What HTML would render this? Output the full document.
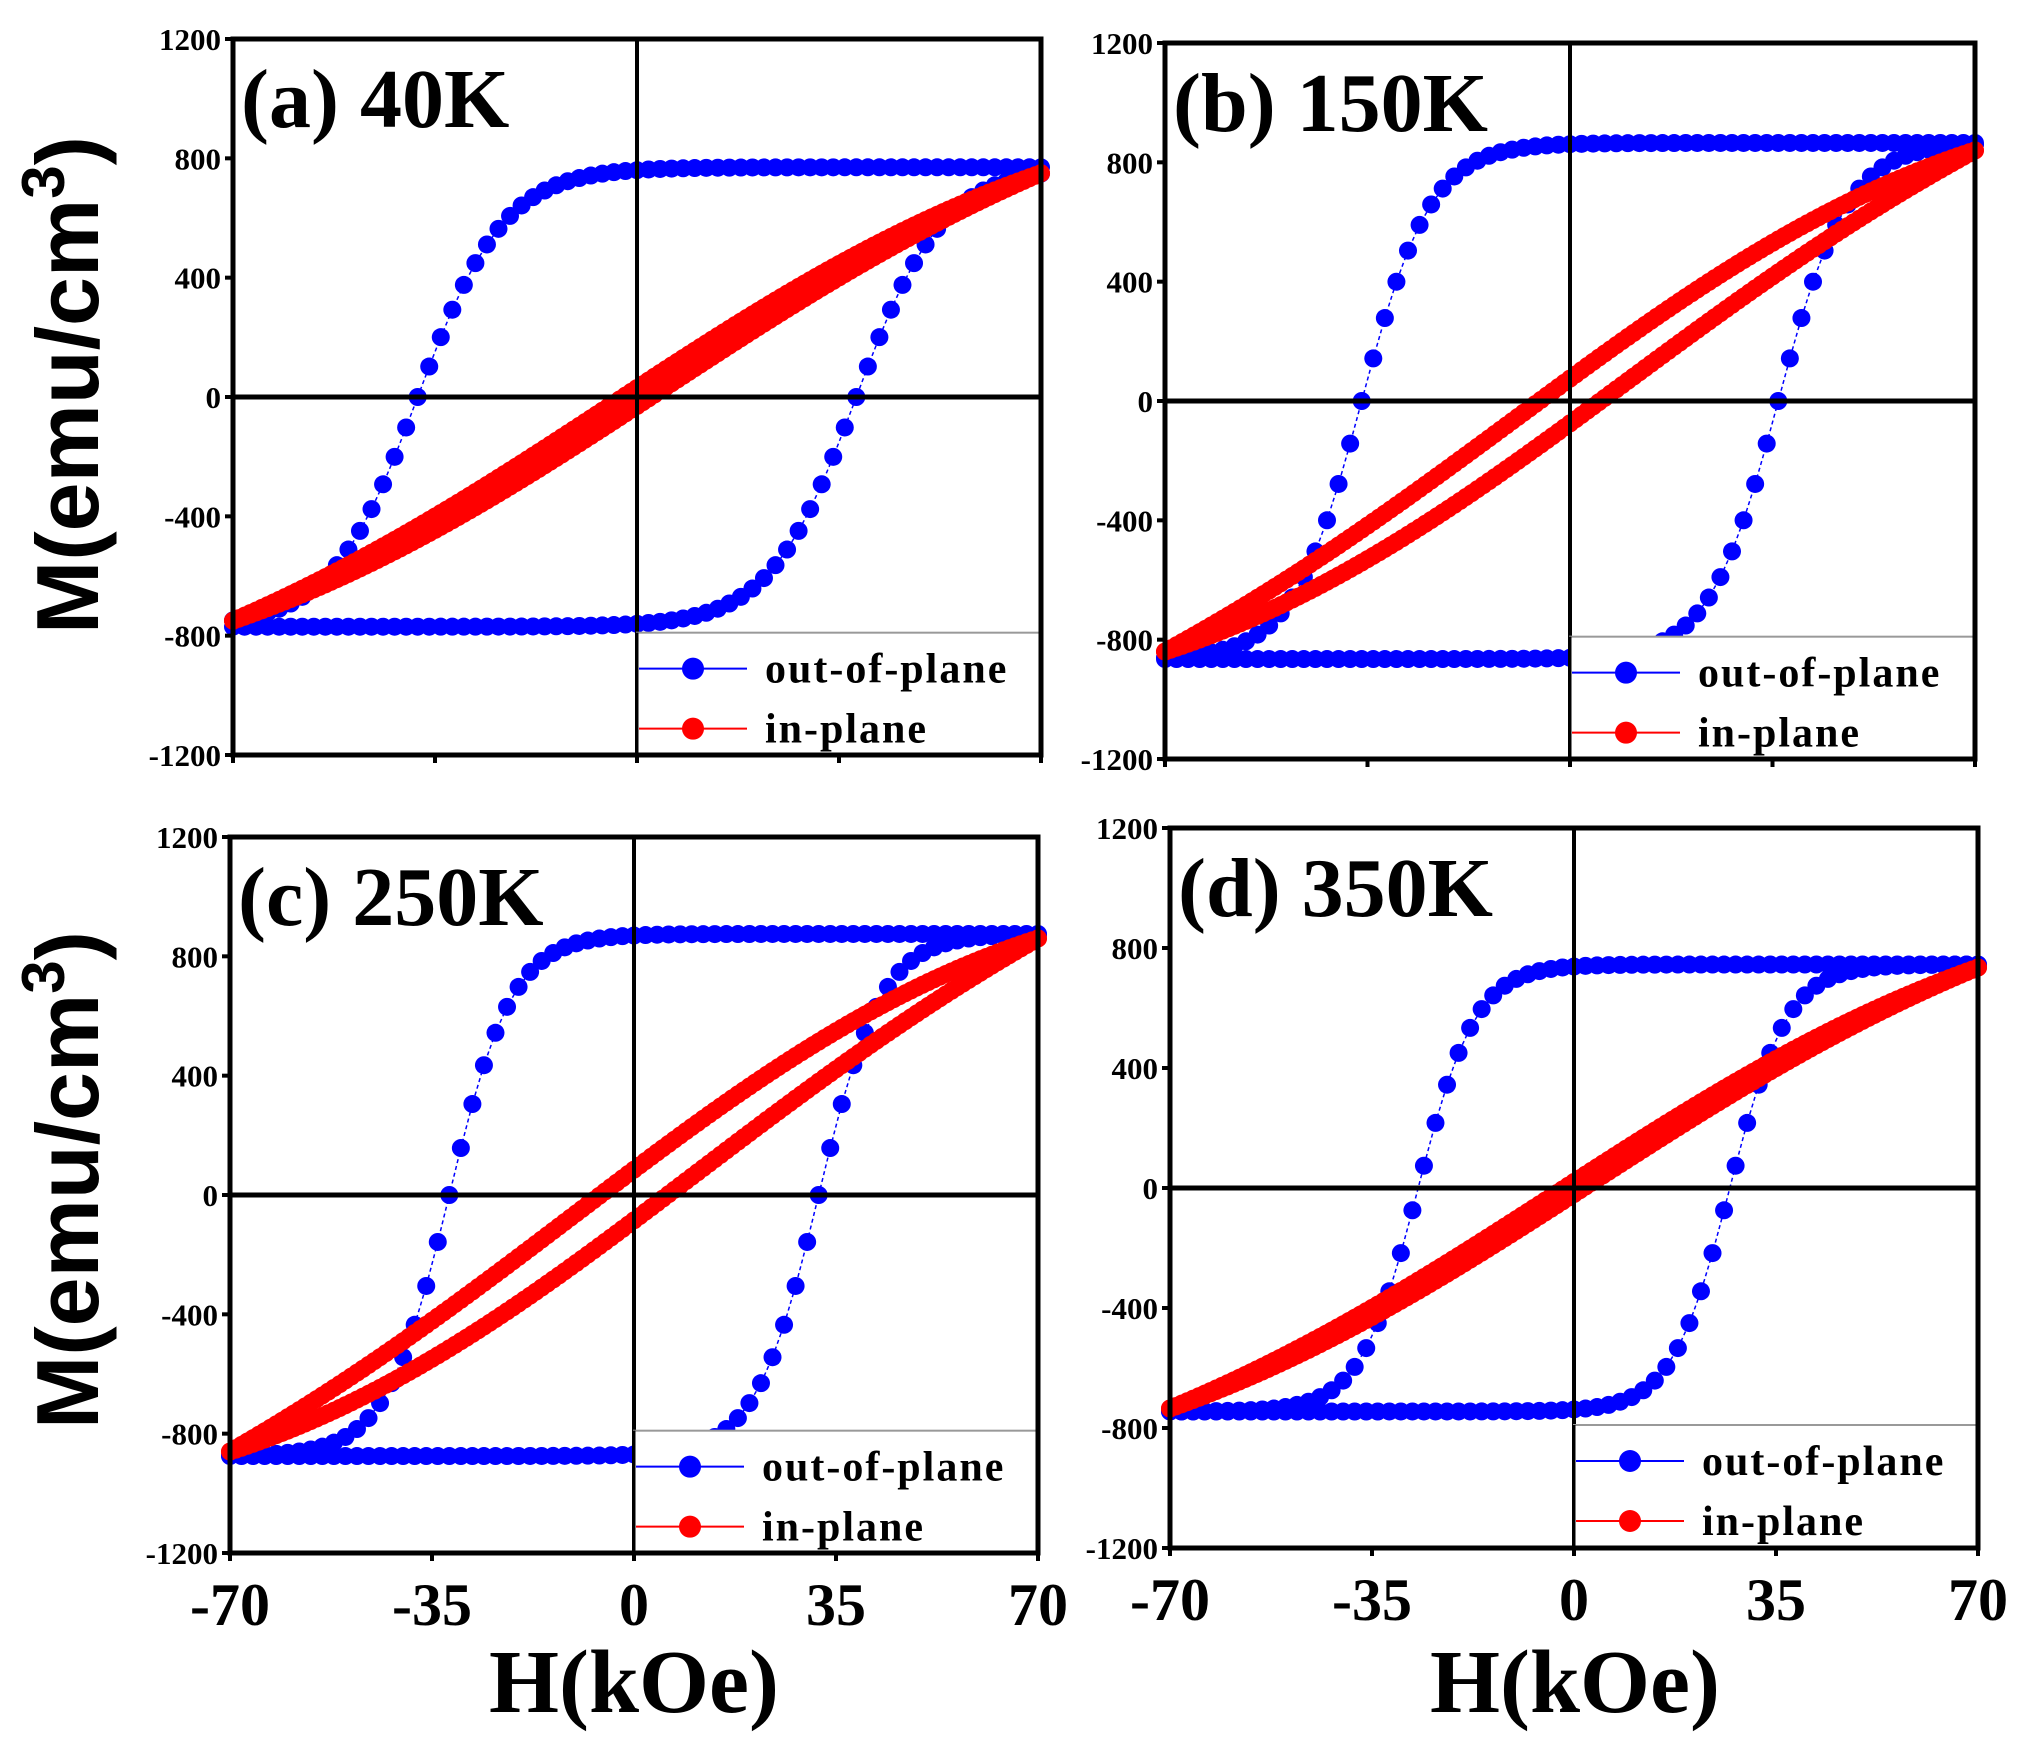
<!DOCTYPE html>
<html><head><meta charset="utf-8">
<style>
html,body{margin:0;padding:0;background:#fff;}
svg{display:block;}
</style></head>
<body>
<svg id="s" width="2023" height="1741" xmlns="http://www.w3.org/2000/svg">
<rect width="2023" height="1741" fill="#fff"/>
<text transform="translate(98,385) rotate(-90)" text-anchor="middle" font-family="Liberation Sans, sans-serif" font-weight="bold" font-size="88">M(emu/cm<tspan dy="-34" font-size="60">3</tspan><tspan dy="34">)</tspan></text>
<text transform="translate(98,1180) rotate(-90)" text-anchor="middle" font-family="Liberation Sans, sans-serif" font-weight="bold" font-size="88">M(emu/cm<tspan dy="-34" font-size="60">3</tspan><tspan dy="34">)</tspan></text>
<text x="634" y="1712" text-anchor="middle" font-family="Liberation Serif, serif" font-weight="bold" font-size="90">H(kOe)</text>
<text x="1575" y="1712" text-anchor="middle" font-family="Liberation Serif, serif" font-weight="bold" font-size="90">H(kOe)</text>
<g id="g"></g>
</svg>
<script>
const NS="http://www.w3.org/2000/svg";
const g=document.getElementById('g');
function el(t,a,txt){const e=document.createElementNS(NS,t);for(const k in a)e.setAttribute(k,a[k]);if(txt!==undefined)e.textContent=txt;g.appendChild(e);return e;}
const panels=[
 {x0:233,x1:1041,y0:39,y1:755,label:"(a) 40K",Ms:770,Hc:38,w:15,ip:750,b:30,xl:false},
 {x0:1165,x1:1975,y0:43,y1:759,label:"(b) 150K",Ms:865,Hc:36,w:12,ip:840,b:75,xl:false},
 {x0:230,x1:1038,y0:837,y1:1553,label:"(c) 250K",Ms:875,Hc:32,w:11,ip:860,b:85,xl:true},
 {x0:1170,x1:1978,y0:828,y1:1548,label:"(d) 350K",Ms:745,Hc:27,w:10,ip:735,b:20,xl:true}
];
const F="Liberation Serif, serif";
panels.forEach(p=>{
 const X=h=>p.x0+(h+70)/140*(p.x1-p.x0);
 const Y=m=>p.y1-(m+1200)/2400*(p.y1-p.y0);
 function opBranch(sign){
  const pts=[];
  for(let i=0;i<=70;i++){const h=-70+i*2;const m=sign>0?p.Ms*Math.tanh((h+p.Hc)/p.w):p.Ms*Math.tanh((h-p.Hc)/p.w);pts.push([h,m]);}
  return pts;}
 const k=0.75,tk=Math.tanh(k);
 function ipBranch(sign){const pts=[];for(let i=0;i<=140;i++){const h=-70+i;const t=h/70;const m=p.ip*Math.tanh(k*t)/tk+sign*p.b*(1-t*t);pts.push([h,m]);}return pts;}
 const series=[[opBranch(1),"#0000ff"],[opBranch(-1),"#0000ff"],[ipBranch(1),"#ff0000"],[ipBranch(-1),"#ff0000"]];
 series.forEach(([pts,c])=>{
  el('polyline',{points:pts.map(q=>X(q[0])+","+Y(q[1])).join(" "),fill:"none",stroke:c,"stroke-width":1.5,"stroke-dasharray":"4,3"});
  pts.forEach(q=>el('circle',{cx:X(q[0]),cy:Y(q[1]),r:9,fill:c}));
 });
 el('line',{x1:p.x0,x2:p.x1,y1:Y(0),y2:Y(0),stroke:"#000","stroke-width":5});
 el('line',{x1:X(0),x2:X(0),y1:p.y0,y2:p.y1,stroke:"#000","stroke-width":4});
 const ly=Y(-790);
 el('rect',{x:X(0),y:ly,width:p.x1-X(0),height:p.y1-ly,fill:"#fff",stroke:"#999","stroke-width":2});
 el('line',{x1:X(0),x2:X(0),y1:ly,y2:p.y1,stroke:"#000","stroke-width":3});
 const lx=X(0);
 [[ "out-of-plane","#0000ff",ly+36],["in-plane","#ff0000",ly+96]].forEach(([t,c,yy])=>{
  el('line',{x1:lx+2,x2:lx+110,y1:yy,y2:yy,stroke:c,"stroke-width":2});
  el('circle',{cx:lx+56,cy:yy,r:11,fill:c});
  el('text',{x:lx+128,y:yy+14,"font-family":F,"font-weight":"bold","font-size":42,"letter-spacing":"2"},t);
 });
 el('rect',{x:p.x0,y:p.y0,width:p.x1-p.x0,height:p.y1-p.y0,fill:"none",stroke:"#000","stroke-width":5});
 [-1200,-800,-400,0,400,800,1200].forEach(v=>{
  el('line',{x1:p.x0-8,x2:p.x0,y1:Y(v),y2:Y(v),stroke:"#000","stroke-width":4});
  el('text',{x:p.x0-12,y:Y(v)+11,"text-anchor":"end","font-family":F,"font-weight":"bold","font-size":31},String(v));
 });
 [-70,-35,0,35,70].forEach(v=>{
  el('line',{x1:X(v),x2:X(v),y1:p.y1,y2:p.y1+8,stroke:"#000","stroke-width":4});
  if(p.xl) el('text',{x:X(v),y:p.y1+72,"text-anchor":"middle","font-family":F,"font-weight":"bold","font-size":60},String(v));
 });
 el('text',{x:p.x0+8,y:p.y0+88,"font-family":F,"font-weight":"bold","font-size":84},p.label);
});
</script>
</body></html>
